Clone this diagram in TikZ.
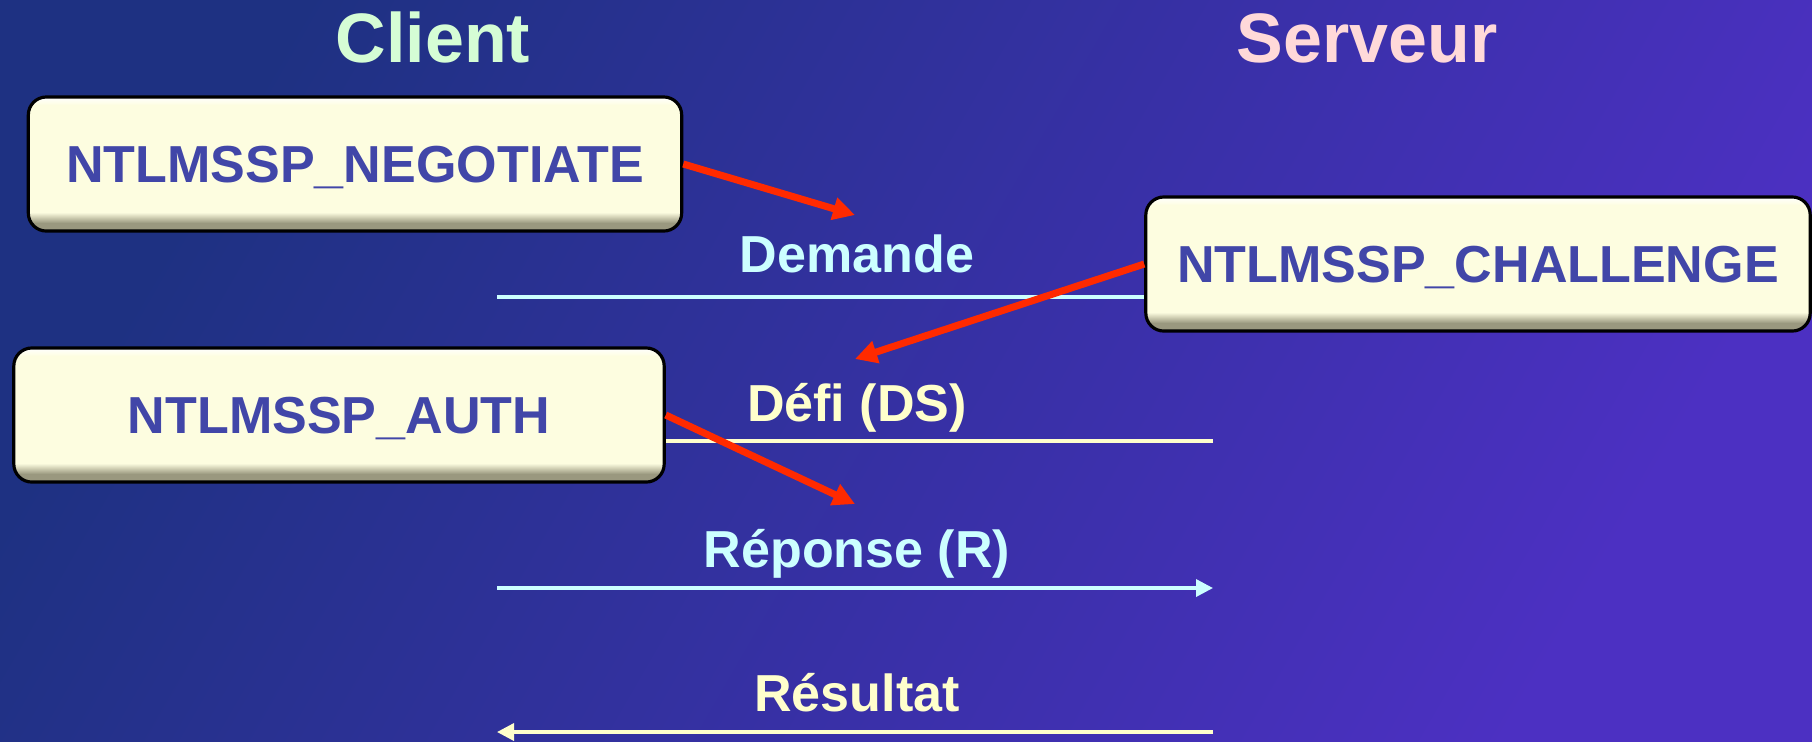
\documentclass[tikz,border=0pt]{standalone}
\usepackage{fontspec}
\setmainfont{Liberation Sans}
\usetikzlibrary{arrows.meta}

\definecolor{bgL}{HTML}{1E3182}
\definecolor{bgR}{HTML}{4C30C2}
\definecolor{cream}{HTML}{FDFDE0}
\definecolor{bevD}{HTML}{9A987F}
\definecolor{boxtxt}{HTML}{4146A8}
\definecolor{msgcyan}{HTML}{CCFFFF}
\definecolor{msgyell}{HTML}{FFFFCC}
\definecolor{cligreen}{HTML}{D5FDD5}
\definecolor{servpink}{HTML}{FFD9D9}
\definecolor{redarr}{HTML}{FF2A00}
\pgfdeclareverticalshading{bevel}{100bp}{color(0bp)=(bevD); color(28bp)=(bevD); color(32bp)=(cream); color(72bp)=(cream); color(75bp)=(white); color(100bp)=(white)}

\begin{document}
\begin{tikzpicture}[x=0.01cm,y=-0.01cm,
  msgbox/.style={shading=bevel, draw=black, line width=0.9pt, rounded corners=0.18cm,
    minimum height=1.34cm, inner sep=0pt, text=boxtxt, text height=0.37cm, text depth=0pt,
    font=\fontsize{14.8}{17}\selectfont\bfseries},
  msglbl/.style={anchor=base, inner sep=0pt, font=\fontsize{14.8}{17}\selectfont\bfseries},
  title/.style={anchor=base, inner sep=0pt, font=\fontsize{19.9}{24}\selectfont\bfseries},
  msgline/.style={line width=1pt, -{Triangle[length=0.17cm,width=0.17cm]}},
  redline/.style={redarr, line width=2pt, -{Triangle[length=0.22cm,width=0.22cm]}}]
\useasboundingbox (0,0) rectangle (1812,741);
\shade[left color=bgL, right color=bgR, shading angle=60] (0,0) rectangle (1812,741);

\node[title, text=cligreen] (client) at (433,62) {Client};
\node[title, text=servpink] (serveur) at (1367,62) {Serveur};

\coordinate (dL) at (497,297); \coordinate (dR) at (1213,297);
\coordinate (fL) at (497,441); \coordinate (fR) at (1213,441);
\coordinate (rL) at (497,588); \coordinate (rR) at (1213,588);
\coordinate (sL) at (497,732); \coordinate (sR) at (1213,732);
\draw[msgline, msgcyan] (dL) -- (dR);
\draw[msgline, msgyell] (fR) -- (fL);
\draw[msgline, msgcyan] (rL) -- (rR);
\draw[msgline, msgyell] (sR) -- (sL);

\node[msglbl, text=msgcyan] (demande) at (857,272) {Demande};
\node[msglbl, text=msgyell] (defi) at (857,421) {Défi (DS)};
\node[msglbl, text=msgcyan] (reponse) at (857,567) {Réponse (R)};
\node[msglbl, text=msgyell] (resultat) at (857,711) {Résultat};

\node[msgbox, minimum width=6.53cm] (negotiate) at (355,164) {NTLMSSP\_NEGOTIATE};
\node[msgbox, minimum width=6.64cm] (challenge) at (1478,264) {NTLMSSP\_CHALLENGE};
\node[msgbox, minimum width=6.50cm] (auth) at (339,415) {NTLMSSP\_AUTH};

\coordinate (tipN) at (855,215);
\coordinate (tipC) at (855,359);
\coordinate (tipA) at (855,504);
\draw[redline] (negotiate.east) -- (tipN);
\draw[redline] (challenge.west) -- (tipC);
\draw[redline] (auth.east) -- (tipA);
\end{tikzpicture}
\end{document}
